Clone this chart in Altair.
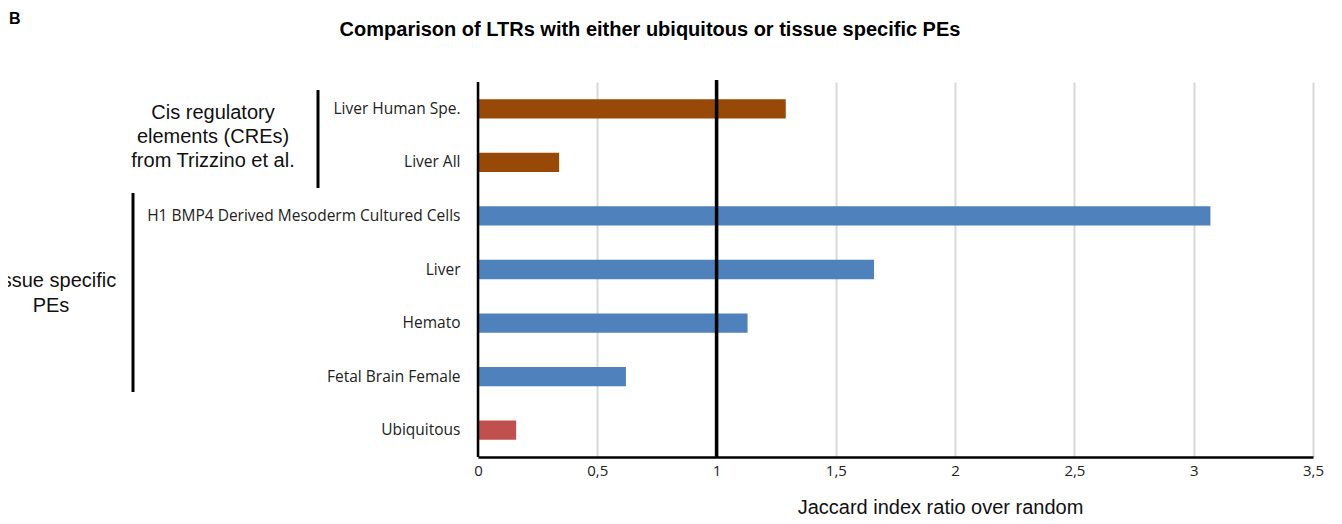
import altair as alt
import pandas as pd

categories = ["Liver Human Spe.", "Liver All", "H1 BMP4 Derived Mesoderm Cultured Cells",
              "Liver", "Hemato", "Fetal Brain Female", "Ubiquitous"]
values = [1.29, 0.34, 3.07, 1.66, 1.13, 0.62, 0.16]
groups = ["CRE", "CRE", "Tissue", "Tissue", "Tissue", "Tissue", "Ubiquitous"]
group_colors = {"CRE": "#984807", "Tissue": "#4F81BD", "Ubiquitous": "#C0504D"}
x_ticks = [0, 0.5, 1, 1.5, 2, 2.5, 3, 3.5]
ref_line = [1]

title_text = "Comparison of LTRs with either ubiquitous or tissue specific PEs"
panel_letter = "B"
x_title = "Jaccard index ratio over random"
group1_text = "Cis regulatory\nelements (CREs)\nfrom Trizzino et al."
group2_text = "Tissue specific\nPEs"

df = pd.DataFrame({"cat": categories, "val": values, "grp": groups})

W, H = 835, 375

y_enc = alt.Y("cat:N", sort=categories,
              scale=alt.Scale(paddingInner=0.64, paddingOuter=0.32),
              axis=alt.Axis(title=None, ticks=False, domain=False, labelPadding=18,
                            labelFont="Open Sans", labelFontSize=15.5, labelColor="#222",
                            labelLimit=400))

bars = alt.Chart(df).mark_bar().encode(
    x=alt.X("val:Q", scale=alt.Scale(domain=[0, 3.5], nice=False),
            axis=alt.Axis(values=x_ticks, title=x_title, grid=True, gridColor="#D9D9D9",
                          gridWidth=2, ticks=False, domain=True, domainColor="#000",
                          domainWidth=2.5, labelPadding=6, labelFont="Open Sans",
                          labelFontSize=15, labelColor="#222", labelFlush=False,
                          labelExpr="replace(toString(datum.value), '.', ',')",
                          titleFont="Liberation Sans", titleFontSize=20,
                          titleFontWeight="normal", titleColor="#111",
                          titleX=462, titleY=50, titleBaseline="middle",
                          titleAlign="center")),
    y=y_enc,
    color=alt.Color("grp:N", scale=alt.Scale(domain=list(group_colors.keys()),
                                             range=list(group_colors.values())),
                    legend=None),
)

left_axis = alt.Chart(pd.DataFrame({"x": [0]})).mark_rule(color="#000", strokeWidth=2.5).encode(
    x="x:Q", y=alt.value(0), y2=alt.value(H))

one_line = alt.Chart(pd.DataFrame({"x": ref_line})).mark_rule(color="#000", strokeWidth=3.5).encode(
    x="x:Q", y=alt.value(-2), y2=alt.value(H))

bracket1 = alt.Chart(pd.DataFrame({"a": [0]})).mark_rule(color="#000", strokeWidth=3).encode(
    x=alt.value(-160), y=alt.value(8), y2=alt.value(106))
bracket2 = alt.Chart(pd.DataFrame({"a": [0]})).mark_rule(color="#000", strokeWidth=3).encode(
    x=alt.value(-345), y=alt.value(111), y2=alt.value(310))

g1 = alt.Chart(pd.DataFrame({"t": [group1_text]})).mark_text(
    lineBreak="\n", font="Liberation Sans", fontSize=20, lineHeight=24,
    align="center", baseline="middle", color="#111").encode(
    text="t:N", x=alt.value(-265), y=alt.value(31))
g2 = alt.Chart(pd.DataFrame({"t": [group2_text]})).mark_text(
    lineBreak="\n", font="Liberation Sans", fontSize=20, lineHeight=25,
    align="center", baseline="middle", color="#111").encode(
    text="t:N", x=alt.value(-427), y=alt.value(199))

title = alt.Chart(pd.DataFrame({"t": [title_text]})).mark_text(
    font="Liberation Sans", fontSize=20, fontWeight="bold", align="center",
    baseline="middle", color="#000").encode(text="t:N", x=alt.value(172), y=alt.value(-52))
letter = alt.Chart(pd.DataFrame({"t": [panel_letter]})).mark_text(
    font="Liberation Sans", fontSize=16, fontWeight="bold", align="left",
    baseline="middle", color="#000").encode(text="t:N", x=alt.value(-469), y=alt.value(-63))

chart = alt.layer(bars, left_axis, one_line, bracket1, bracket2, g1, g2, title, letter).properties(
    width=W, height=H,
    autosize=alt.AutoSizeParams(type="none"),
    padding={"left": 470, "top": 74, "right": 21, "bottom": 59},
).configure_view(stroke=None)

chart.save("out.html", embed_options={"renderer": "svg", "actions": False})
